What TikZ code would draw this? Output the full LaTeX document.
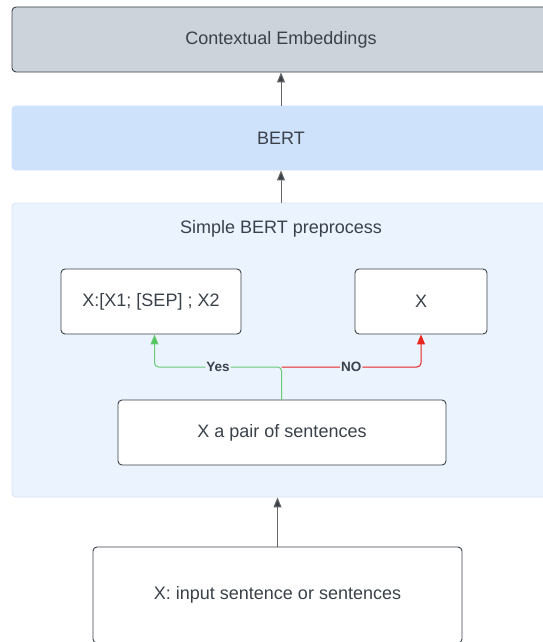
\documentclass[tikz,border=0pt]{standalone}
\usepackage{fontspec}
\setmainfont{Liberation Sans}
\usetikzlibrary{arrows.meta}
\definecolor{txt}{HTML}{3A414A}
\definecolor{ctxfill}{HTML}{CDD3DB}
\definecolor{bertfill}{HTML}{CFE2FB}
\definecolor{prefill}{HTML}{EBF3FE}
\definecolor{preline}{HTML}{D8E6F8}
\definecolor{yesc}{HTML}{6BCB77}
\definecolor{yesh}{HTML}{4FC25A}
\definecolor{noc}{HTML}{E8241F}
\definecolor{arrc}{HTML}{3A414A}
\tikzset{
  box/.style={draw=txt, line width=0.9pt, rounded corners=4pt, fill=white, text=txt,
    font=\fontsize{18}{20}\selectfont, inner sep=0pt, anchor=center},
  arr/.style={draw=gray!80!black, line width=1pt, -{Triangle[length=10pt,width=8pt,fill=arrc]}},
  lbl/.style={fill=prefill, text=txt, font=\bfseries\fontsize{13.5}{15}\selectfont, inner sep=1pt},
}
\begin{document}
\begin{tikzpicture}[x=1pt,y=-1pt]
\useasboundingbox (0,0) rectangle (543,642);
\fill[white] (0,0) rectangle (543,642);
\clip (0,0) rectangle (543,642);
\node[box, fill=ctxfill, minimum width=538pt, minimum height=65pt] (ctx) at (281,39.5) {Contextual Embeddings};
\node[box, draw=bertfill, fill=bertfill, minimum width=538pt, minimum height=64pt] (bert) at (281,138) {BERT};
\node[box, draw=preline, fill=prefill, minimum width=538pt, minimum height=294pt] (pre) at (281,350) {};
\node[text=txt, font=\fontsize{18}{20}\selectfont] (title) at (281,229) {Simple BERT preprocess};
\node[box, minimum width=180pt, minimum height=65pt] (sep) at (151,301.5) {X:[X1; [SEP] ; X2};
\node[box, minimum width=132pt, minimum height=65pt] (xx) at (421,301.5) {X};
\node[box, minimum width=328pt, minimum height=65pt] (pair) at (282,432.5) {X a pair of sentences};
\node[box, minimum width=369pt, minimum height=96pt] (inp) at (277.5,595) {X: input sentence or sentences};
\coordinate (j) at (281.5,367);
\draw[arr] (bert.north) -- (ctx.south);
\draw[arr] (pre.north) -- (bert.south);
\draw[arr] (inp.north) -- (inp.north |- pre.south);
\draw[yesc, line width=1pt, rounded corners=4pt, -{Triangle[length=10pt,width=8pt,fill=yesh]}]
  (pair.north -| j) -- (j) -| node[lbl, pos=0.25] (yes) {Yes} ([xshift=3.5pt]sep.south);
\draw[noc, line width=1pt, rounded corners=4pt, -{Triangle[length=10pt,width=8pt,fill=noc]}]
  (j) -| node[lbl, pos=0.25] (no) {NO} (xx.south);
\end{tikzpicture}
\end{document}
